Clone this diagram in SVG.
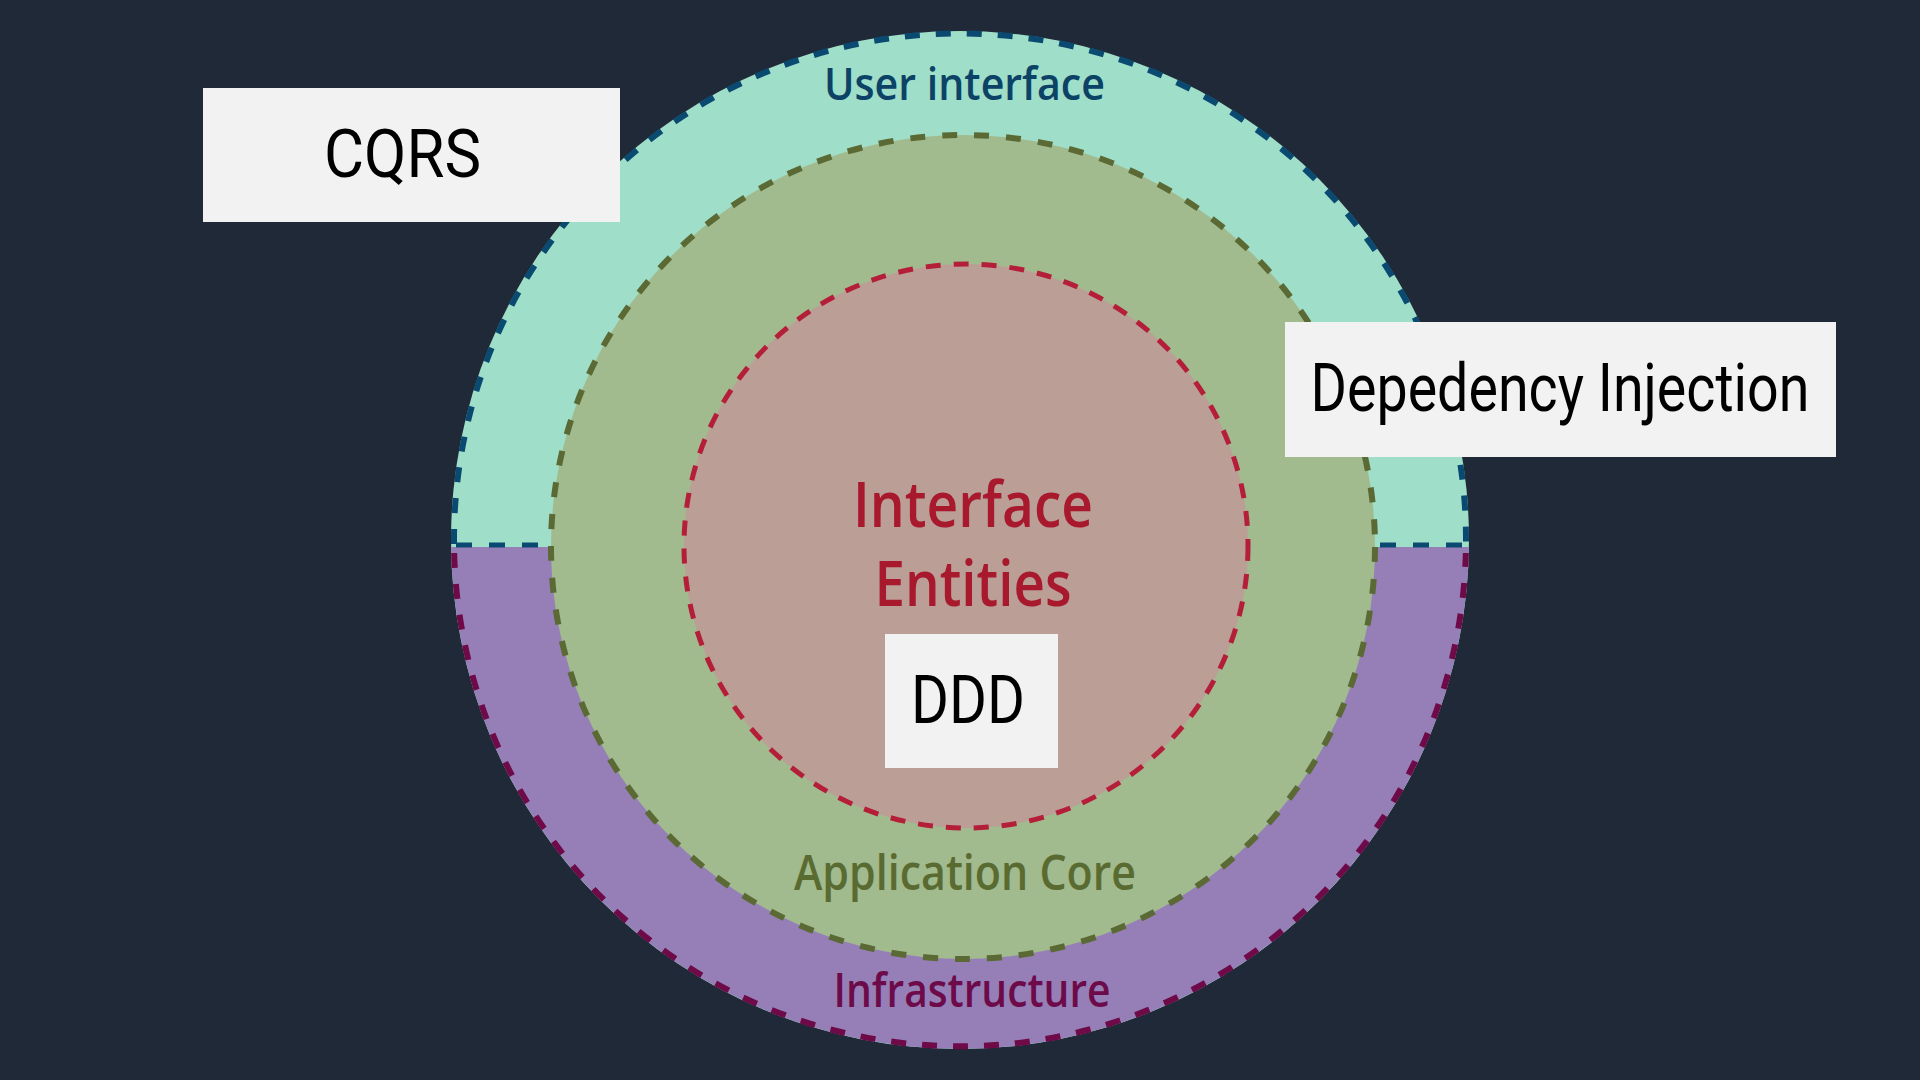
<svg xmlns="http://www.w3.org/2000/svg" width="1920" height="1080" viewBox="0 0 1920 1080">
  <style>
    .layer { font-family: "Open Sans", "Noto Sans", "DejaVu Sans", sans-serif; font-weight: 600; text-anchor: middle; }
    .box { fill: #f2f2f2; }
    .boxtext { font-family: Roboto, "Liberation Sans", sans-serif; font-size: 66px; fill: #000000; text-anchor: middle; }
  </style>
  <rect x="0" y="0" width="1920" height="1080" fill="#1f2937"/>

  <g id="infrastructure-layer">
    <circle cx="960" cy="540" r="509" fill="#9fdec8"/>
    <path d="M451.05,547 A509,509 0 0 0 1468.95,547 Z" fill="#957fb6"/>
    <path d="M454.16,553 A506,506 0 0 0 1465.84,553" fill="none" stroke="#6e0a48" stroke-width="6" stroke-dasharray="15 16"/>
    <text class="layer" x="972" y="1007" font-size="47" fill="#6d0a4a" textLength="277" lengthAdjust="spacingAndGlyphs">Infrastructure</text>
  </g>

  <g id="user-interface-layer">
    <path d="M454.02,544 A506,506 0 1 1 1465.98,544" fill="none" stroke="#0b4a70" stroke-width="6" stroke-dasharray="15 16"/>
    <line x1="456" y1="545" x2="1464" y2="545" stroke="#0b4a70" stroke-width="5" stroke-dasharray="16 17"/>
    <text class="layer" x="964.5" y="100" font-size="46" fill="#0b4266" textLength="281" lengthAdjust="spacingAndGlyphs">User interface</text>
  </g>

  <g id="application-core-layer">
    <circle cx="963" cy="547" r="412" fill="#a1ba8e" stroke="#5b6a34" stroke-width="6" stroke-dasharray="15 17"/>
    <text class="layer" x="965" y="890" font-size="49" fill="#5a6b32" textLength="342" lengthAdjust="spacingAndGlyphs">Application Core</text>
  </g>

  <g id="domain-layer">
    <circle cx="966" cy="546" r="282" fill="#bb9e96" stroke="#b41e38" stroke-width="5" stroke-dasharray="15 13"/>
    <text class="layer" x="973" y="527" font-size="63" fill="#a8192e" textLength="240" lengthAdjust="spacingAndGlyphs">Interface</text>
    <text class="layer" x="973" y="606" font-size="63" fill="#a8192e" textLength="197" lengthAdjust="spacingAndGlyphs">Entities</text>
  </g>

  <g id="connectors"></g>

  <g id="cqrs">
    <rect class="box" x="203" y="88" width="417" height="134"/>
    <text class="boxtext" x="402.5" y="177" textLength="157" lengthAdjust="spacingAndGlyphs">CQRS</text>
  </g>

  <g id="dependency-injection">
    <rect class="box" x="1285" y="322" width="551" height="135"/>
    <text class="boxtext" x="1560" y="411" textLength="499" lengthAdjust="spacingAndGlyphs">Depedency Injection</text>
  </g>

  <g id="ddd">
    <rect class="box" x="885" y="634" width="173" height="134"/>
    <text class="boxtext" x="968" y="723" textLength="114" lengthAdjust="spacingAndGlyphs">DDD</text>
  </g>
</svg>
